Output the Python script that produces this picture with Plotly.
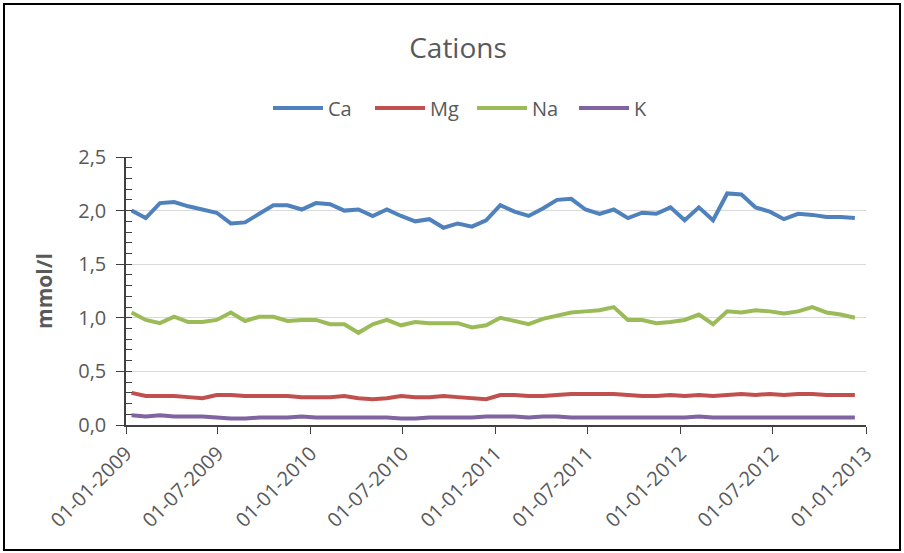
import plotly.graph_objects as go

# Sampling dates (roughly every four weeks, 2009-2012)
dates = [
    "2009-01-12", "2009-02-09", "2009-03-09", "2009-04-06", "2009-05-04", "2009-06-01",
    "2009-06-29", "2009-07-27", "2009-08-24", "2009-09-21", "2009-10-19", "2009-11-16",
    "2009-12-14", "2010-01-11", "2010-02-08", "2010-03-08", "2010-04-05", "2010-05-03",
    "2010-05-31", "2010-06-28", "2010-07-26", "2010-08-23", "2010-09-20", "2010-10-18",
    "2010-11-15", "2010-12-13", "2011-01-10", "2011-02-07", "2011-03-07", "2011-04-04",
    "2011-05-02", "2011-05-30", "2011-06-27", "2011-07-25", "2011-08-22", "2011-09-19",
    "2011-10-17", "2011-11-14", "2011-12-12", "2012-01-09", "2012-02-06", "2012-03-05",
    "2012-04-02", "2012-04-30", "2012-05-28", "2012-06-25", "2012-07-23", "2012-08-20",
    "2012-09-17", "2012-10-15", "2012-11-12", "2012-12-10",
]

# Concentrations in mmol/l
ca = [2.00, 1.93, 2.07, 2.08, 2.04, 2.01, 1.98, 1.88, 1.89, 1.97,
      2.05, 2.05, 2.01, 2.07, 2.06, 2.00, 2.01, 1.95, 2.01, 1.95,
      1.90, 1.92, 1.84, 1.88, 1.85, 1.91, 2.05, 1.99, 1.95, 2.02,
      2.10, 2.11, 2.01, 1.97, 2.01, 1.93, 1.98, 1.97, 2.03, 1.91,
      2.03, 1.91, 2.16, 2.15, 2.03, 1.99, 1.92, 1.97, 1.96, 1.94,
      1.94, 1.93]
mg = [0.30, 0.27, 0.27, 0.27, 0.26, 0.25, 0.28, 0.28, 0.27, 0.27,
      0.27, 0.27, 0.26, 0.26, 0.26, 0.27, 0.25, 0.24, 0.25, 0.27,
      0.26, 0.26, 0.27, 0.26, 0.25, 0.24, 0.28, 0.28, 0.27, 0.27,
      0.28, 0.29, 0.29, 0.29, 0.29, 0.28, 0.27, 0.27, 0.28, 0.27,
      0.28, 0.27, 0.28, 0.29, 0.28, 0.29, 0.28, 0.29, 0.29, 0.28,
      0.28, 0.28]
na = [1.05, 0.98, 0.95, 1.01, 0.96, 0.96, 0.98, 1.05, 0.97, 1.01,
      1.01, 0.97, 0.98, 0.98, 0.94, 0.94, 0.86, 0.94, 0.98, 0.93,
      0.96, 0.95, 0.95, 0.95, 0.91, 0.93, 1.00, 0.97, 0.94, 0.99,
      1.02, 1.05, 1.06, 1.07, 1.10, 0.98, 0.98, 0.95, 0.96, 0.98,
      1.03, 0.94, 1.06, 1.05, 1.07, 1.06, 1.04, 1.06, 1.10, 1.05,
      1.03, 1.00]
k = [0.09, 0.08, 0.09, 0.08, 0.08, 0.08, 0.07, 0.06, 0.06, 0.07,
     0.07, 0.07, 0.08, 0.07, 0.07, 0.07, 0.07, 0.07, 0.07, 0.06,
     0.06, 0.07, 0.07, 0.07, 0.07, 0.08, 0.08, 0.08, 0.07, 0.08,
     0.08, 0.07, 0.07, 0.07, 0.07, 0.07, 0.07, 0.07, 0.07, 0.07,
     0.08, 0.07, 0.07, 0.07, 0.07, 0.07, 0.07, 0.07, 0.07, 0.07,
     0.07, 0.07]

series = [("Ca", ca, "#4f81bd"), ("Mg", mg, "#c0504d"),
          ("Na", na, "#9bbb59"), ("K", k, "#8064a2")]

FONT = "Open Sans"
GREY = "#595959"
AXIS = "#404040"

fig = go.Figure()
for name, vals, color in series:
    fig.add_trace(go.Scatter(x=dates, y=vals, name=name, mode="lines",
                             line=dict(color=color, width=4)))

fig.update_layout(
    width=904, height=553,
    margin=dict(l=126, r=38, t=157, b=128),
    paper_bgcolor="white", plot_bgcolor="white",
    separators=", ",
    font=dict(family=FONT, color=GREY),
    title=dict(text="Cations", x=458 / 904, xanchor="center",
               y=1 - 48 / 553, yanchor="middle", yref="container",
               font=dict(family=FONT, size=28, color=GREY)),
    legend=dict(orientation="h", x=268 / 904, xanchor="left",
                xref="container", y=1 - 108 / 553, yanchor="middle",
                yref="container", font=dict(family=FONT, size=20, color=GREY),
                itemwidth=50, entrywidth=37, entrywidthmode="pixels",
                bgcolor="rgba(0,0,0,0)"),
    showlegend=True,
    xaxis=dict(
        type="date", range=["2009-01-01", "2013-01-01"],
        tick0="2009-01-01", dtick="M6", tickformat="%d-%m-%Y",
        tickangle=-45, ticks="outside", ticklen=7, tickcolor=AXIS,
        showline=True, linecolor=AXIS, linewidth=1.5, showgrid=False,
        zeroline=False, tickfont=dict(family=FONT, size=20, color=GREY),
    ),
    yaxis=dict(
        range=[0, 2.5], dtick=0.5, tickformat=".1f",
        ticks="outside", ticklen=8, tickcolor=AXIS,
        minor=dict(dtick=0.1, ticks="inside", ticklen=6, tickcolor=AXIS,
                   showgrid=False),
        showline=True, linecolor=AXIS, linewidth=1.5,
        showgrid=True, gridcolor="#d9d9d9", gridwidth=1, zeroline=False,
        tickfont=dict(family=FONT, size=20, color=GREY),
        ticklabelstandoff=6,
        title=dict(text="mmol/l", standoff=20,
                   font=dict(family=FONT, size=21, color=GREY, weight="bold")),
    ),
    # inner half of the major y ticks
    yaxis2=dict(
        range=[0, 2.5], dtick=0.5, overlaying="y", anchor="x", side="left",
        ticks="inside", ticklen=6, tickcolor=AXIS, showticklabels=False,
        showgrid=False, zeroline=False, showline=False,
    ),
)

# chart frame
fig.add_shape(type="rect", xref="paper", yref="paper",
              xsizemode="pixel", ysizemode="pixel", xanchor=0, yanchor=0,
              x0=-122, x1=774, y0=-125, y1=421,
              line=dict(color="black", width=2), fillcolor="rgba(0,0,0,0)",
              layer="above")

fig.write_html("out.html")
